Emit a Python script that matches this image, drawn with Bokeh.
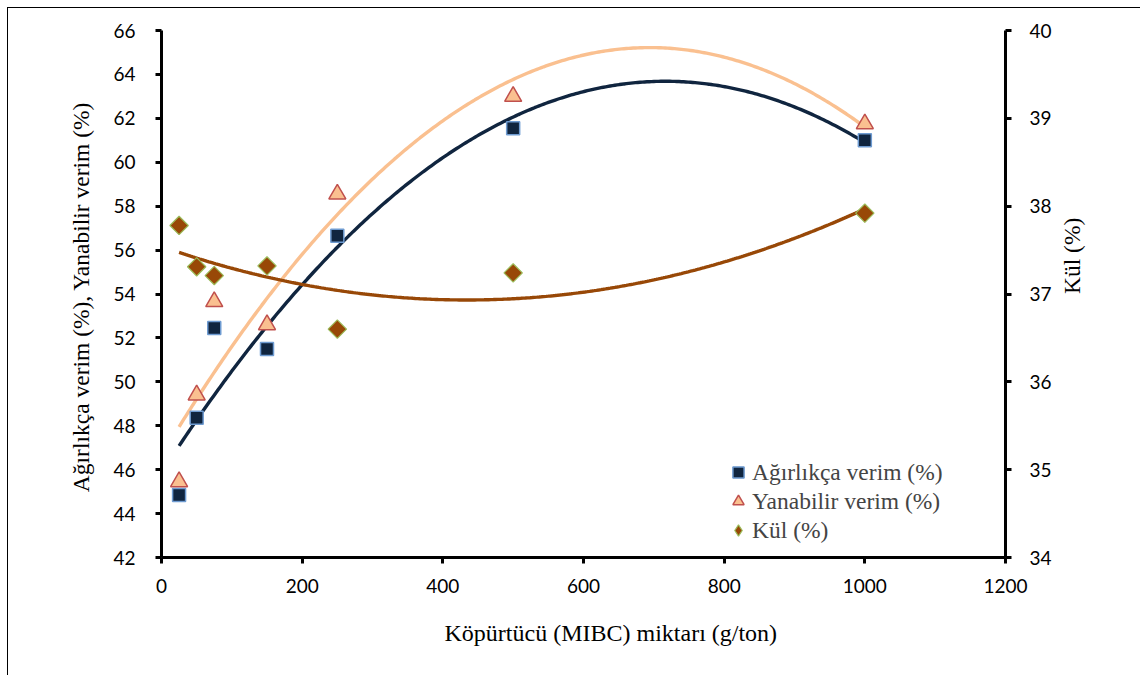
import math
import numpy as np
from bokeh.plotting import figure
from bokeh.models import Range1d, LinearAxis, Legend, LegendItem, FixedTicker, Title
from bokeh.embed import file_html
from bokeh.resources import INLINE

# data
mibc = [25, 50, 75, 150, 250, 500, 1000]
agirlikca = [44.85, 48.37, 52.45, 51.5, 56.65, 61.55, 61.0]
yanabilir = [45.45, 49.4, 53.65, 52.6, 58.55, 63.0, 61.75]
kul = [37.78, 37.31, 37.21, 37.32, 36.6, 37.24, 37.92]

x_ticks = [0, 200, 400, 600, 800, 1000, 1200]
left_ticks = [42, 44, 46, 48, 50, 52, 54, 56, 58, 60, 62, 64, 66]
right_ticks = [34, 35, 36, 37, 38, 39, 40]

C_NAVY = "#10253F"
C_PEACH = "#FAC090"
C_BROWN = "#984807"

TICK_FONT = "Lato"
SERIF = "Liberation Serif"

p = figure(width=1133, height=668, output_backend="svg", toolbar_location=None,
           x_range=Range1d(0, 1200), y_range=Range1d(42, 66),
           min_border_left=153, min_border_right=136, min_border_top=22, min_border_bottom=119)
p.styles = {"border-left": "1px solid #000", "border-top": "1px solid #000",
            "margin-left": "7px", "margin-top": "7px"}
p.extra_y_ranges = {"kul": Range1d(34, 40)}
p.outline_line_color = None
p.grid.visible = False

# trend lines (2nd-order polynomial fits of the data)
xs = np.linspace(min(mibc), max(mibc), 300)
for ys, col, rng in [(agirlikca, C_NAVY, "default"), (yanabilir, C_PEACH, "default"), (kul, C_BROWN, "kul")]:
    c = np.polyfit(mibc, ys, 2)
    p.line(xs, np.polyval(c, xs), line_color=col, line_width=3.4, y_range_name=rng)

r1 = p.scatter(mibc, agirlikca, marker="square", size=13, fill_color=C_NAVY,
               line_color="#6E9BD1", line_width=1.5)
r2 = p.scatter(mibc, yanabilir, marker="triangle", size=17, fill_color=C_PEACH,
               line_color="#C0504D", line_width=1.5)
p.scatter(mibc, kul, marker="square", angle=math.pi / 4, size=13, fill_color=C_BROWN,
          line_color="#9BBB59", line_width=1.2, y_range_name="kul")
# legend-only proxy for the diamond marker (its one point lies outside the visible range)
r3 = p.scatter(x=[-500], y=[20], marker="diamond", size=16, fill_color=C_BROWN,
               line_color="#9BBB59", line_width=1.2, y_range_name="kul")

def style_axis(ax, ticks):
    ax.ticker = FixedTicker(ticks=ticks)
    ax.axis_line_width = 3
    ax.axis_line_color = "black"
    ax.major_tick_line_width = 3
    ax.major_tick_out = 6
    ax.major_tick_in = 0
    ax.minor_tick_line_color = None
    ax.major_label_text_font = TICK_FONT
    ax.major_label_text_font_size = "19px"
    ax.major_label_text_color = "black"
    ax.axis_label_text_font = SERIF
    ax.axis_label_text_font_size = "23.5px"
    ax.axis_label_text_font_style = "normal"
    ax.axis_label_text_color = "black"

xa = p.xaxis[0]
style_axis(xa, x_ticks)
xa.major_label_standoff = 15

# x-axis title (sits right of centre in the original)
p.add_layout(Title(text="Köpürtücü (MIBC) miktarı (g/ton)", align="left", offset=283,
                   text_font=SERIF, text_font_size="24px", text_font_style="normal",
                   text_color="black", standoff=45), "below")

ya = p.yaxis[0]
style_axis(ya, left_ticks)
ya.axis_label = "Ağırlıkça verim (%),  Yanabilir verim (%)"
ya.major_label_standoff = 20
ya.axis_label_standoff = 16

ra = LinearAxis(y_range_name="kul")
style_axis(ra, right_ticks)
ra.major_label_standoff = 18
p.add_layout(ra, "right")

# right-axis title, reading bottom to top (carried by a bare helper axis)
ta = LinearAxis(y_range_name="kul")
style_axis(ta, [])
ta.axis_line_color = None
ta.major_tick_line_color = None
ta.major_tick_out = 0
ta.major_label_standoff = 0
ta.axis_label = "Kül (%)"
ta.axis_label_orientation = math.pi / 2
ta.axis_label_standoff = 17
p.add_layout(ta, "right")

legend = Legend(items=[LegendItem(label="Ağırlıkça verim (%)", renderers=[r1]),
                       LegendItem(label="Yanabilir verim (%)", renderers=[r2]),
                       LegendItem(label="Kül (%)", renderers=[r3])],
                location=(563, 13), background_fill_alpha=0, border_line_color=None,
                label_text_font=SERIF, label_text_font_size="23.5px",
                glyph_width=28, glyph_height=28, spacing=1, label_standoff=0,
                padding=4, margin=0)
p.add_layout(legend)

open("out.html", "w").write(file_html(p, INLINE))
